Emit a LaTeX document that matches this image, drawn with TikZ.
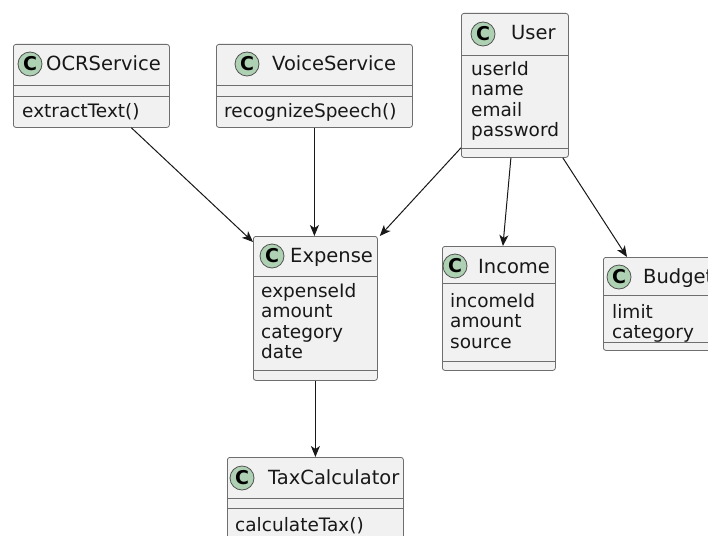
\documentclass[tikz,border=0pt]{standalone}
\usepackage{fontspec}
\setmainfont{DejaVu Sans}
\usetikzlibrary{arrows.meta,positioning}
\definecolor{boxfill}{HTML}{F1F1F1}
\definecolor{boxline}{HTML}{6E6E6E}
\definecolor{badge}{HTML}{ADD1B2}
\definecolor{ink}{HTML}{181818}
\tikzstyle{classbox} = [rectangle, draw=boxline, fill=boxfill, rounded corners=2.5pt, line width=0.8pt, inner sep=0pt, anchor=north west]
\tikzstyle{badgec} = [circle, draw=ink!75, fill=badge, line width=0.8pt, minimum size=24pt, inner sep=0pt, font=\fontsize{19}{19}\selectfont\bfseries]
\tikzstyle{cname} = [inner sep=0pt, anchor=base west, text=ink, font=\fontsize{19.5}{20.5}\selectfont]
\tikzstyle{members} = [inner sep=0pt, anchor=base west, align=left, text=ink, font=\fontsize{18.5}{20.5}\selectfont]
\tikzstyle{sep} = [draw=boxline, line width=0.8pt]
\tikzstyle{assoc} = [draw=ink, line width=1pt, -{Stealth[length=11pt,width=9pt,inset=3pt]}]

\begin{document}
\begin{tikzpicture}[x=1pt, y=-1pt]
    \path[use as bounding box] (0,0) rectangle (708,535);
    \clip (0,0) rectangle (708,535);
    \fill[white] (0,0) rectangle (708,535);

    % class boxes
    \node[classbox, minimum width=156pt, minimum height=83pt] (ocr) at (13,44) {};
    \node[classbox, minimum width=196pt, minimum height=83pt] (voice) at (216,44) {};
    \node[classbox, minimum width=107pt, minimum height=144pt] (user) at (461,13) {};
    \node[classbox, minimum width=124pt, minimum height=144pt] (expense) at (253,236) {};
    \node[classbox, minimum width=113pt, minimum height=124pt] (income) at (442,246) {};
    \node[classbox, minimum width=112pt, minimum height=93pt] (budget) at (603,257) {};
    \node[classbox, minimum width=176pt, minimum height=103pt] (tax) at (227,457) {};

    % compartments
    \draw[sep] (ocr.west |- 0,85) -- (ocr.east |- 0,85);
    \draw[sep] (ocr.west |- 0,96) -- (ocr.east |- 0,96);
    \draw[sep] (voice.west |- 0,85) -- (voice.east |- 0,85);
    \draw[sep] (voice.west |- 0,96) -- (voice.east |- 0,96);
    \draw[sep] (user.west |- 0,55) -- (user.east |- 0,55);
    \draw[sep] (user.west |- 0,148) -- (user.east |- 0,148);
    \draw[sep] (expense.west |- 0,276) -- (expense.east |- 0,276);
    \draw[sep] (expense.west |- 0,370) -- (expense.east |- 0,370);
    \draw[sep] (income.west |- 0,283) -- (income.east |- 0,283);
    \draw[sep] (income.west |- 0,361) -- (income.east |- 0,361);
    \draw[sep] (budget.west |- 0,295) -- (budget.east |- 0,295);
    \draw[sep] (budget.west |- 0,342) -- (budget.east |- 0,342);
    \draw[sep] (tax.west |- 0,498) -- (tax.east |- 0,498);
    \draw[sep] (tax.west |- 0,508) -- (tax.east |- 0,508);

    % headers
    \node[badgec] (ocrC) at (30,64) {C};
    \node[cname] (ocrN) at (46,70) {OCRService};
    \node[badgec] (voiceC) at (247,64) {C};
    \node[cname] (voiceN) at (272,70) {VoiceService};
    \node[badgec] (userC) at (483,34) {C};
    \node[cname] (userN) at (511,40) {User};
    \node[badgec] (expenseC) at (272,256) {C};
    \node[cname] (expenseN) at (290,262) {Expense};
    \node[badgec] (incomeC) at (455,266) {C};
    \node[cname] (incomeN) at (478,273) {Income};
    \node[badgec] (budgetC) at (619,277) {C};
    \node[cname] (budgetN) at (643,283) {Budget};
    \node[badgec] (taxC) at (242,478) {C};
    \node[cname] (taxN) at (268,484) {TaxCalculator};

    % members (base = last line)
    \node[members] (ocrM) at (22,117) {extractText()};
    \node[members] (voiceM) at (224,117) {recognizeSpeech()};
    \node[members] (userA) at (471,136.5) {userId\\name\\email\\password};
    \node[members] (expenseA) at (261,358.5) {expenseId\\amount\\category\\date};
    \node[members] (incomeA) at (450,348) {incomeId\\amount\\source};
    \node[members] (budgetA) at (612,338.5) {limit\\category};
    \node[members] (taxM) at (235,531) {calculateTax()};

    % associations
    \draw[assoc] ([xshift=40pt]ocr.south) -- ([yshift=-6pt]expense.north west);
    \draw[assoc] (voice.south) -- (voice.south |- expense.north);
    \draw[assoc] ([yshift=10pt]user.south west) -- ([xshift=2pt]expense.north east);
    \draw[assoc] ([xshift=-4pt]user.south) -- ([xshift=4pt]income.north);
    \draw[assoc] ([xshift=-6pt]user.south east) -- ([xshift=24pt]budget.north west);
    \draw[assoc] (expense.south) -- (tax.north);
\end{tikzpicture}
\end{document}
